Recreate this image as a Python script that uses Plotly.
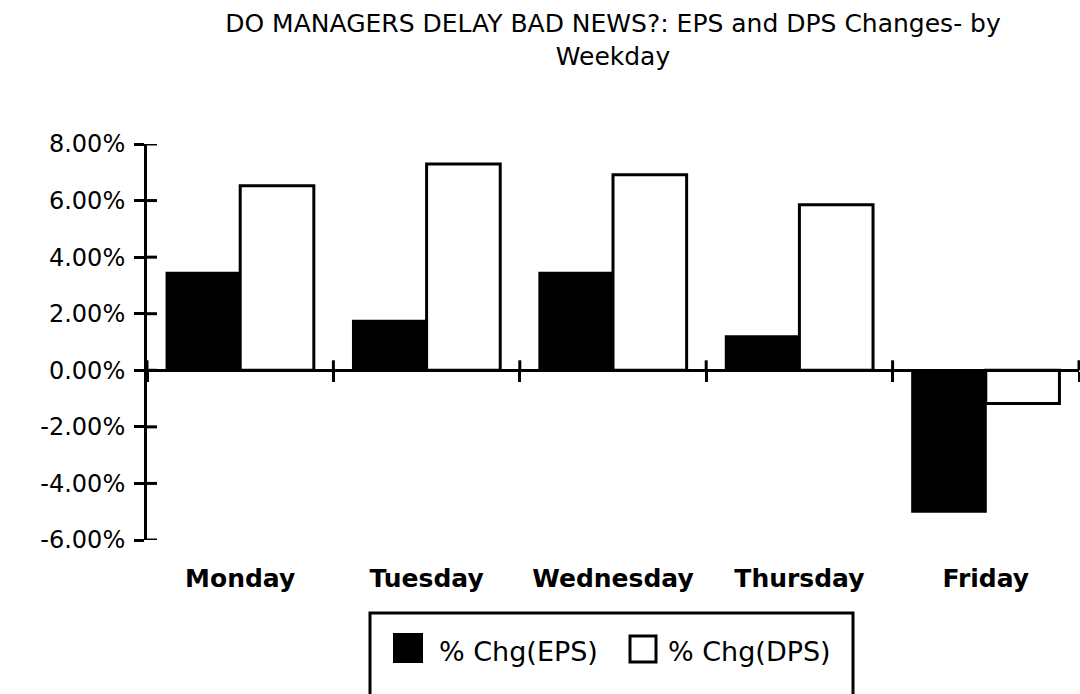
import plotly.graph_objects as go

# ---- data ----
days = ["Monday", "Tuesday", "Wednesday", "Thursday", "Friday"]
eps_chg = [0.0345, 0.0175, 0.0345, 0.0120, -0.0500]
dps_chg = [0.0652, 0.0729, 0.0691, 0.0585, -0.0117]
series_names = ["% Chg(EPS)", "% Chg(DPS)"]
y_ticks = [-0.06, -0.04, -0.02, 0.0, 0.02, 0.04, 0.06, 0.08]
y_tick_labels = [f"{v * 100:.2f}%" for v in y_ticks]
title_text = "DO MANAGERS DELAY BAD NEWS?: EPS and DPS Changes- by<br>Weekday"

# ---- layout geometry (pixels) ----
W, H = 1080, 694
L, R, T, B = 147, 1079, 144, 540
y_min, y_max = y_ticks[0], y_ticks[-1]
TICK = 10


def px_x(px):
    return (px - L) / (R - L)


def px_y(py):
    return (B - py) / (B - T)


zero_pos = (0 - y_min) / (y_max - y_min)
n = len(days)
xr = [-0.5, n - 0.5]

fig = go.Figure()
fig.add_trace(go.Bar(x=days, y=eps_chg, name=series_names[0], showlegend=False,
                     marker=dict(color="black", line=dict(color="black", width=2))))
fig.add_trace(go.Bar(x=days, y=dps_chg, name=series_names[1], showlegend=False,
                     marker=dict(color="white", line=dict(color="black", width=3))))

# helper trace so that the bottom label axis is drawn
fig.add_trace(go.Scatter(x=[None], y=[None], xaxis="x3", yaxis="y", showlegend=False, hoverinfo="skip"))

tick_font = dict(family="DejaVu Sans", size=24, color="black")
common = dict(showgrid=False, zeroline=False, automargin=False)

fig.update_layout(
    width=W, height=H,
    margin=dict(l=L, r=W - R, t=T, b=H - B, pad=0),
    paper_bgcolor="white", plot_bgcolor="white",
    barmode="group", bargap=0.21, bargroupgap=0,
    title=dict(text=title_text, x=0.5, xref="paper", xanchor="center",
               y=1 - 32 / H, yref="container", yanchor="bottom",
               font=dict(family="DejaVu Sans", size=25, color="black")),
    showlegend=False,
    xaxis=dict(type="category", range=xr, anchor="free", position=zero_pos,
               showline=True, linecolor="black", linewidth=3,
               ticks="outside", tickson="boundaries", ticklen=TICK, tickwidth=3,
               tickcolor="black", showticklabels=False, **common),
    xaxis3=dict(overlaying="x", range=xr, anchor="y", side="bottom",
                tickmode="array", tickvals=list(range(n)), ticktext=days,
                ticks="", showline=False, ticklabelstandoff=21,
                tickfont=dict(family="DejaVu Sans", size=25, color="black", weight="bold"),
                **common),
    yaxis=dict(range=[y_min, y_max], tickmode="array", tickvals=y_ticks, ticktext=y_tick_labels,
               showline=True, linecolor="black", linewidth=3,
               ticks="outside", ticklen=TICK, tickwidth=3, tickcolor="black",
               ticklabelstandoff=4, tickfont=tick_font, **common),
)

shapes = []
# inner halves of the cross-shaped tick marks
for v in y_ticks:
    shapes.append(dict(type="line", xref="paper", xsizemode="pixel", xanchor=0, x0=0, x1=TICK,
                       yref="y", y0=v, y1=v, line=dict(color="black", width=3)))
for i in range(n + 1):
    shapes.append(dict(type="line", xref="paper", x0=i / n, x1=i / n,
                       yref="y", ysizemode="pixel", yanchor=0, y0=0, y1=TICK,
                       line=dict(color="black", width=3)))

# ---- manual legend (box, symbols, labels) ----
shapes += [
    dict(type="rect", xref="paper", yref="paper", x0=px_x(370), x1=px_x(853),
         y0=px_y(613), y1=px_y(720), line=dict(color="black", width=3), fillcolor="white", layer="below"),
    dict(type="rect", xref="paper", yref="paper", x0=px_x(393), x1=px_x(423),
         y0=px_y(633), y1=px_y(663), line=dict(color="black", width=0), fillcolor="black"),
    dict(type="rect", xref="paper", yref="paper", x0=px_x(630), x1=px_x(656),
         y0=px_y(636), y1=px_y(662), line=dict(color="black", width=3), fillcolor="white"),
]
fig.update_layout(shapes=shapes)
legend_x = [437, 666]
for name, lx in zip(series_names, legend_x):
    fig.add_annotation(text=name, xref="paper", yref="paper", x=px_x(lx), y=px_y(651),
                       xanchor="left", yanchor="middle", showarrow=False,
                       font=dict(family="DejaVu Sans", size=27, color="black"))

fig.write_html("out.html", config={"displayModeBar": False},
               post_script="document.body.style.margin='0px';")
